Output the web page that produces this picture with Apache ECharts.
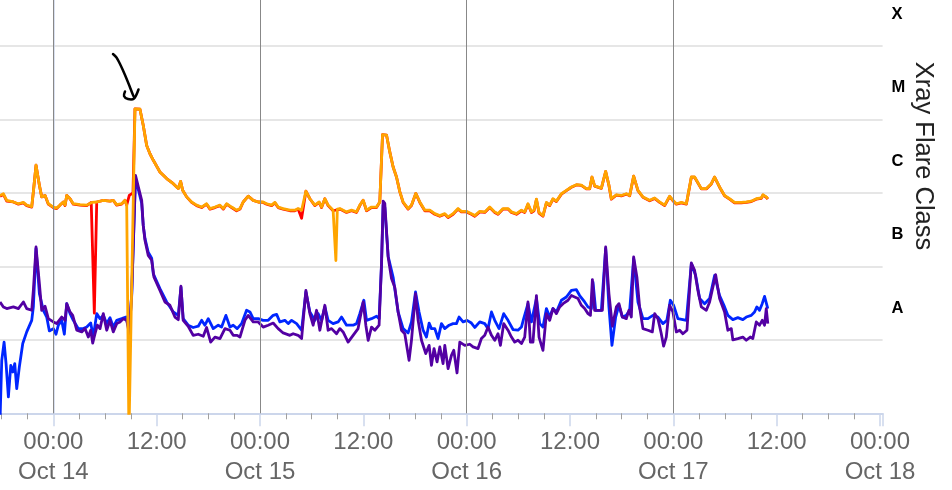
<!DOCTYPE html>
<html><head><meta charset="utf-8">
<script src="https://cdn.jsdelivr.net/npm/echarts@6/dist/echarts.min.js"></script>
<style>html,body{margin:0;padding:0;background:#fff}#c{width:952px;height:490px}</style>
</head><body><div id="c"></div>
<script>
// time = hours from Oct 14 00:00 ; value = X-ray flux (W/m^2)
const dayNames = ['Oct 13','Oct 14','Oct 15','Oct 16','Oct 17','Oct 18'];
const dayLines = [0, 24, 48, 72];
const classNames = ['A','B','C','M','X'];
const classLevels = [-7.5, -6.5, -5.5, -4.5, -3.5];

const longOrange = [[-6.19,9.2e-7],[-5.80,9.7e-7],[-5.41,7.9e-7],[-4.64,7.5e-7],[-4.06,7.1e-7],[-3.48,7.4e-7],[-3.09,6.8e-7],[-2.51,6.5e-7],[-2.32,1.03e-6],[-2.01,2.37e-6],[-1.62,1.27e-6],[-1.35,8.8e-7],[-0.96,9.2e-7],[-0.58,7.1e-7],[0,6.4e-7],[0.39,6.2e-7],[0.78,6.8e-7],[1.16,7.5e-7],[1.36,6.8e-7],[1.56,9.2e-7],[1.94,8.3e-7],[2.32,7.1e-7],[3.10,6.9e-7],[3.88,6.8e-7],[4.46,7.4e-7],[5.04,7.5e-7],[5.80,7.9e-7],[6.58,7.7e-7],[6.96,7.9e-7],[7.36,6.9e-7],[7.94,7.1e-7],[8.32,7.9e-7],[8.52,6.8e-7],[8.78,5e-10],[9.48,1.39e-5],[10.06,1.37e-5],[10.44,8.3e-6],[10.84,4.4e-6],[11.22,3.4e-6],[11.61,2.77e-6],[12.38,1.92e-6],[13.16,1.56e-6],[13.93,1.33e-6],[14.51,1.14e-6],[14.78,1.43e-6],[15.02,1.08e-6],[15.48,8.8e-7],[16.06,7.5e-7],[16.64,6.8e-7],[17.22,6.4e-7],[17.80,7.1e-7],[18.19,6.1e-7],[18.77,6.4e-7],[19.35,6.8e-7],[19.73,6.1e-7],[20.12,7.1e-7],[20.70,6.4e-7],[21.28,5.8e-7],[21.67,6.1e-7],[22.05,7.5e-7],[22.63,9.0e-7],[23.21,7.9e-7],[23.79,7.5e-7],[24.37,7.5e-7],[24.77,7.1e-7],[25.35,6.8e-7],[25.73,7.4e-7],[26.11,6.4e-7],[26.69,6.1e-7],[27.47,5.8e-7],[28.05,5.8e-7],[28.43,6.1e-7],[28.83,5.8e-7],[29.33,1.05e-6],[29.79,8.3e-7],[30.37,6.8e-7],[30.87,7.5e-7],[31.15,6.4e-7],[31.53,8.3e-7],[31.91,6.8e-7],[32.49,5.8e-7],[32.63,5.8e-7],[32.81,1.2e-7],[32.98,6.0e-7],[33.27,6.1e-7],[34.05,5.5e-7],[34.63,5.8e-7],[35.21,5.5e-7],[35.59,6.8e-7],[35.98,7.9e-7],[36.37,5.8e-7],[36.95,6.4e-7],[37.53,6.4e-7],[37.91,7.5e-7],[38.23,6.2e-6],[38.69,6.1e-6],[39.07,3.6e-6],[39.46,2.24e-6],[39.85,1.64e-6],[40.24,1.03e-6],[40.62,7.5e-7],[41.20,6.1e-7],[41.59,6.8e-7],[42.09,9.8e-7],[42.56,7.5e-7],[43.14,5.8e-7],[43.72,5.8e-7],[44.30,5.2e-7],[44.88,4.9e-7],[45.46,5.2e-7],[45.84,4.7e-7],[46.42,5.2e-7],[47.00,6.1e-7],[47.39,5.6e-7],[47.97,5.6e-7],[48.55,5.2e-7],[48.94,4.9e-7],[49.52,5.6e-7],[50.10,5.5e-7],[50.68,6.4e-7],[51.26,5.5e-7],[51.64,5.2e-7],[52.22,6.1e-7],[52.80,6.1e-7],[53.20,5.5e-7],[53.78,5.2e-7],[54.36,5.8e-7],[54.74,5.5e-7],[55.12,7.1e-7],[55.52,5.5e-7],[55.82,5.8e-7],[56.10,8.2e-7],[56.40,5.4e-7],[56.86,4.9e-7],[57.26,7.4e-7],[57.64,6.8e-7],[58.02,8.3e-7],[58.42,7.7e-7],[59.00,9.7e-7],[59.58,1.08e-6],[60.16,1.2e-6],[60.74,1.29e-6],[61.32,1.27e-6],[61.90,1.14e-6],[62.28,1.14e-6],[62.55,1.64e-6],[62.86,1.24e-6],[63.64,1.16e-6],[63.83,1.14e-6],[64.14,1.96e-6],[64.52,1.27e-6],[64.80,8.3e-7],[65.38,9.4e-7],[65.96,9.2e-7],[66.54,9.7e-7],[66.93,9.2e-7],[67.39,1.69e-6],[67.89,1.08e-6],[68.47,8.8e-7],[69.25,7.9e-7],[69.83,8.5e-7],[70.41,7.5e-7],[70.99,6.8e-7],[71.57,9.0e-7],[71.95,7.9e-7],[72.35,7.1e-7],[72.93,7.4e-7],[73.51,7.1e-7],[74.09,1.64e-6],[74.47,1.64e-6],[75.25,1.14e-6],[75.83,1.14e-6],[76.41,1.33e-6],[76.79,1.64e-6],[77.37,1.2e-6],[77.95,9.2e-7],[78.53,8.3e-7],[79.11,7.4e-7],[79.89,7.4e-7],[80.47,7.5e-7],[81.05,7.7e-7],[81.63,8.3e-7],[82.21,8.5e-7],[82.40,9.4e-7],[82.79,8.8e-7],[82.97,8.3e-7]];

const longRed = [[-6.19,9.0e-7],[-5.80,9.5e-7],[-5.41,7.7e-7],[-4.64,7.5e-7],[-4.06,7.0e-7],[-3.48,7.3e-7],[-3.09,6.7e-7],[-2.51,6.4e-7],[-2.32,1.03e-6],[-2.01,2.37e-6],[-1.62,1.27e-6],[-1.35,8.8e-7],[-0.96,9.2e-7],[-0.58,7.0e-7],[0,6.3e-7],[0.39,6.1e-7],[0.78,6.8e-7],[1.16,7.5e-7],[1.36,6.7e-7],[1.56,9.2e-7],[1.94,8.3e-7],[2.32,7.0e-7],[3.10,6.8e-7],[3.88,6.7e-7],[4.40,7.4e-7],[4.76,2.3e-8],[5.04,7.5e-7],[5.80,7.9e-7],[6.58,7.7e-7],[6.96,7.9e-7],[7.36,6.8e-7],[7.94,7.0e-7],[8.32,7.9e-7],[8.52,6.8e-7],[8.82,9.2e-7],[9.25,1.0e-6],[9.48,1.39e-5],[10.06,1.37e-5],[10.44,8.3e-6],[10.84,4.4e-6],[11.22,3.4e-6],[11.61,2.77e-6],[12.38,1.92e-6],[13.16,1.56e-6],[13.93,1.33e-6],[14.51,1.14e-6],[14.78,1.43e-6],[15.02,1.08e-6],[15.48,8.8e-7],[16.06,7.4e-7],[16.64,6.7e-7],[17.22,6.3e-7],[17.80,7.0e-7],[18.19,6.0e-7],[18.77,6.3e-7],[19.35,6.7e-7],[19.73,6.0e-7],[20.12,7.0e-7],[20.70,6.3e-7],[21.28,5.7e-7],[21.67,6.0e-7],[22.05,7.5e-7],[22.63,9.0e-7],[23.21,7.9e-7],[23.79,7.5e-7],[24.37,7.4e-7],[24.77,7.0e-7],[25.35,6.7e-7],[25.73,7.3e-7],[26.11,6.3e-7],[26.69,6.0e-7],[27.47,5.7e-7],[28.05,5.7e-7],[28.43,6.0e-7],[28.83,4.5e-7],[29.33,1.05e-6],[29.79,8.3e-7],[30.37,6.7e-7],[30.87,7.4e-7],[31.15,6.3e-7],[31.53,8.3e-7],[31.91,6.7e-7],[32.49,5.7e-7],[33.27,6.0e-7],[34.05,5.4e-7],[34.63,5.7e-7],[35.21,5.4e-7],[35.59,6.7e-7],[35.98,7.9e-7],[36.37,5.7e-7],[36.95,6.3e-7],[37.53,6.3e-7],[37.91,7.5e-7],[38.23,6.2e-6],[38.69,6.1e-6],[39.07,3.6e-6],[39.46,2.24e-6],[39.85,1.64e-6],[40.24,1.03e-6],[40.62,7.4e-7],[41.20,6.0e-7],[41.59,6.7e-7],[42.09,9.8e-7],[42.56,7.4e-7],[43.14,5.7e-7],[43.72,5.7e-7],[44.30,5.1e-7],[44.88,4.8e-7],[45.46,5.1e-7],[45.84,4.6e-7],[46.42,5.1e-7],[47.00,6.0e-7],[47.39,5.5e-7],[47.97,5.5e-7],[48.55,5.1e-7],[48.94,4.8e-7],[49.52,5.5e-7],[50.10,5.4e-7],[50.68,6.3e-7],[51.26,5.4e-7],[51.64,5.1e-7],[52.22,6.0e-7],[52.80,6.0e-7],[53.20,5.4e-7],[53.78,5.1e-7],[54.36,5.7e-7],[54.74,5.4e-7],[55.12,7.0e-7],[55.52,5.4e-7],[55.82,5.7e-7],[56.10,8.1e-7],[56.40,5.3e-7],[56.86,4.8e-7],[57.26,7.3e-7],[57.64,6.7e-7],[58.02,8.2e-7],[58.42,7.6e-7],[59.00,9.6e-7],[59.58,1.07e-6],[60.16,1.19e-6],[60.74,1.28e-6],[61.32,1.26e-6],[61.90,1.13e-6],[62.28,1.13e-6],[62.55,1.63e-6],[62.86,1.23e-6],[63.64,1.15e-6],[63.83,1.13e-6],[64.14,1.95e-6],[64.52,1.26e-6],[64.80,8.2e-7],[65.38,9.3e-7],[65.96,9.1e-7],[66.54,9.6e-7],[66.93,9.1e-7],[67.39,1.68e-6],[67.89,1.07e-6],[68.47,8.7e-7],[69.25,7.8e-7],[69.83,8.4e-7],[70.41,7.4e-7],[70.99,6.7e-7],[71.57,8.9e-7],[71.95,7.8e-7],[72.35,7.0e-7],[72.93,7.3e-7],[73.51,7.0e-7],[74.09,1.63e-6],[74.47,1.63e-6],[75.25,1.13e-6],[75.83,1.13e-6],[76.41,1.32e-6],[76.79,1.63e-6],[77.37,1.19e-6],[77.95,9.1e-7],[78.53,8.2e-7],[79.11,7.3e-7],[79.89,7.3e-7],[80.47,7.4e-7],[81.05,7.6e-7],[81.63,8.2e-7],[82.21,8.4e-7],[82.40,9.3e-7],[82.79,8.7e-7],[82.97,8.2e-7]];

const shortPurple = [[-6.19,3.27e-8],[-5.80,2.8e-8],[-5.41,2.66e-8],[-4.64,2.8e-8],[-4.06,2.66e-8],[-3.48,3.27e-8],[-3.09,2.66e-8],[-2.51,2.52e-8],[-2.32,4.7e-8],[-2.01,1.83e-7],[-1.62,5.8e-8],[-1.35,2.52e-8],[-0.96,2.86e-8],[-0.58,1.94e-8],[0,1.75e-8],[0.39,1.66e-8],[0.97,2.04e-8],[1.36,1.84e-8],[1.56,3.1e-8],[1.94,2.39e-8],[2.25,2.15e-8],[2.72,1.35e-8],[3.30,1.28e-8],[3.68,1.42e-8],[4.06,1.09e-8],[4.34,1.35e-8],[4.57,9.0e-9],[4.84,1.21e-8],[5.11,1.58e-8],[5.42,1.42e-8],[5.80,2.27e-8],[6.20,1.35e-8],[6.58,1.84e-8],[6.96,1.28e-8],[7.36,1.66e-8],[7.74,1.75e-8],[8.12,1.94e-8],[8.52,1.84e-8],[8.82,1.21e-8],[9.10,4.25e-8],[9.54,1.73e-6],[9.71,1.68e-6],[10.26,7.9e-7],[10.44,3.6e-7],[10.64,2.26e-7],[11.02,1.41e-7],[11.42,1.21e-7],[11.69,7.1e-8],[12.38,4.7e-8],[12.96,3.27e-8],[13.54,2.95e-8],[14.12,2.04e-8],[14.51,1.88e-8],[14.82,5.35e-8],[15.08,1.84e-8],[15.66,1.53e-8],[16.24,1.15e-8],[16.83,1.19e-8],[17.41,1.12e-8],[17.80,1.47e-8],[18.27,9.3e-9],[18.77,1.09e-8],[19.35,1.04e-8],[19.93,1.42e-8],[20.51,1.35e-8],[20.89,1.15e-8],[21.35,1.15e-8],[21.67,1.09e-8],[22.25,1.84e-8],[22.63,2.15e-8],[23.21,1.75e-8],[23.79,1.75e-8],[24.37,1.49e-8],[24.95,1.58e-8],[25.53,1.69e-8],[26.11,1.42e-8],[26.69,1.24e-8],[27.47,1.15e-8],[27.85,1.21e-8],[28.43,1.15e-8],[28.83,1.04e-8],[29.33,4.7e-8],[29.79,2.27e-8],[30.17,1.58e-8],[30.57,2.52e-8],[30.95,1.35e-8],[31.53,2.95e-8],[31.91,1.35e-8],[32.31,1.42e-8],[32.89,1.21e-8],[33.27,1.42e-8],[33.65,1.28e-8],[34.23,9.3e-9],[34.81,1.15e-8],[35.39,1.42e-8],[35.98,3.27e-8],[36.29,1.58e-8],[36.56,9.85e-9],[36.95,1.49e-8],[37.33,1.35e-8],[37.83,1.58e-8],[38.11,1.09e-7],[38.30,7.7e-7],[38.49,7.2e-7],[38.88,1.34e-7],[39.27,6.8e-8],[39.65,5.2e-8],[40.04,2.39e-8],[40.43,1.35e-8],[40.81,1.21e-8],[41.31,5.26e-9],[41.59,9.85e-9],[41.78,9.85e-9],[42.06,4.25e-8],[42.36,1.84e-8],[42.75,9.85e-9],[43.25,6.5e-9],[43.64,8.4e-9],[43.91,4.5e-9],[44.21,7.6e-9],[44.56,5.0e-9],[44.88,8.0e-9],[45.26,4.74e-9],[45.46,8.4e-9],[45.84,4.06e-9],[46.23,6.15e-9],[46.50,7.2e-9],[46.88,3.54e-9],[47.20,9.3e-9],[47.78,8.4e-9],[48.36,8.7e-9],[48.74,8.0e-9],[49.32,7.6e-9],[49.71,1.04e-8],[50.10,1.15e-8],[50.48,1.49e-8],[50.88,1.15e-8],[51.26,9.85e-9],[51.64,1.21e-8],[51.92,8.4e-9],[52.30,1.66e-8],[52.80,1.35e-8],[53.20,1.09e-8],[53.58,9.3e-9],[53.96,9.85e-9],[54.36,8.9e-9],[54.74,1.09e-8],[55.12,3.27e-8],[55.40,9.3e-9],[55.70,9.3e-9],[56.10,4.0e-8],[56.40,1.09e-8],[56.86,7.2e-9],[57.26,2.27e-8],[57.64,1.84e-8],[58.02,2.66e-8],[58.42,2.27e-8],[58.80,2.8e-8],[59.19,3.1e-8],[59.77,3.45e-8],[60.16,4.0e-8],[60.54,3.82e-8],[60.93,3.64e-8],[61.32,2.95e-8],[61.70,2.66e-8],[62.09,2.27e-8],[62.37,2.15e-8],[62.60,6.6e-8],[62.86,2.52e-8],[63.44,2.52e-8],[63.76,2.52e-8],[64.14,1.83e-7],[64.52,4.25e-8],[64.92,1.53e-8],[65.38,2.8e-8],[65.68,3.1e-8],[66.08,2.04e-8],[66.54,1.94e-8],[66.84,2.52e-8],[67.12,2.04e-8],[67.39,1.34e-7],[67.77,7.1e-8],[68.08,2.8e-8],[68.47,1.42e-8],[69.05,1.35e-8],[69.56,1.28e-8],[69.83,2.27e-8],[70.21,1.94e-8],[70.60,1.21e-8],[70.87,8.2e-9],[71.18,1.09e-8],[71.57,2.95e-8],[71.95,2.39e-8],[72.35,1.28e-8],[72.73,1.35e-8],[73.11,1.21e-8],[73.58,1.35e-8],[74.09,1.11e-7],[74.47,8.8e-8],[74.85,4.7e-8],[75.25,2.8e-8],[75.83,2.52e-8],[76.21,3.27e-8],[76.91,7.7e-8],[77.37,3.64e-8],[77.95,2.39e-8],[78.33,1.35e-8],[78.73,1.42e-8],[78.91,1.0e-8],[79.49,1.04e-8],[80.07,1.09e-8],[80.47,9.85e-9],[80.93,1.09e-8],[81.23,1.04e-8],[81.63,1.75e-8],[82.01,1.58e-8],[82.32,1.84e-8],[82.59,1.58e-8],[82.79,2.66e-8],[82.97,1.66e-8]];

const shortBlue = [[-6.19,8e-10],[-5.99,5.26e-9],[-5.72,9.3e-9],[-5.49,4.74e-9],[-5.22,1.67e-9],[-4.94,4.5e-9],[-4.71,3.65e-9],[-4.48,4.74e-9],[-4.25,2.17e-9],[-3.95,4.26e-9],[-3.55,8.9e-9],[-3.09,1.28e-8],[-2.51,1.84e-8],[-2.32,2.8e-8],[-2.01,1.74e-7],[-1.62,4.25e-8],[-1.16,2.52e-8],[-0.77,2.04e-8],[-0.46,1.32e-8],[0,1.42e-8],[0.31,1.19e-8],[0.58,1.58e-8],[0.97,1.84e-8],[1.28,1.19e-8],[1.56,3.1e-8],[1.94,2.27e-8],[2.32,1.84e-8],[2.90,1.42e-8],[3.48,1.42e-8],[3.88,1.49e-8],[4.34,1.69e-8],[4.64,1.09e-8],[5.04,2.27e-8],[5.42,1.94e-8],[5.80,2.15e-8],[6.20,1.66e-8],[6.58,2.0e-8],[6.96,1.49e-8],[7.36,1.84e-8],[7.94,1.94e-8],[8.44,2.04e-8],[8.82,1.35e-8],[9.10,4.0e-8],[9.54,1.58e-6],[9.71,1.58e-6],[10.26,7.2e-7],[10.44,3.6e-7],[10.64,2.4e-7],[11.02,1.55e-7],[11.42,1.29e-7],[11.61,7.9e-8],[12.38,4.97e-8],[13.16,3.27e-8],[13.93,2.39e-8],[14.51,2.15e-8],[14.82,5.2e-8],[15.08,1.94e-8],[15.66,1.58e-8],[16.24,1.47e-8],[16.83,1.53e-8],[17.22,1.84e-8],[17.60,1.58e-8],[17.99,1.94e-8],[18.57,1.42e-8],[19.15,1.58e-8],[19.54,1.49e-8],[20.04,2.15e-8],[20.51,1.49e-8],[20.89,1.58e-8],[21.35,1.42e-8],[21.86,1.66e-8],[22.44,2.52e-8],[22.83,2.39e-8],[23.21,1.94e-8],[23.79,1.94e-8],[24.37,1.84e-8],[24.95,1.84e-8],[25.53,2.15e-8],[25.93,2.22e-8],[26.31,1.75e-8],[26.89,1.84e-8],[27.27,1.66e-8],[27.67,1.84e-8],[28.25,1.66e-8],[28.83,1.35e-8],[29.33,4.47e-8],[29.79,2.39e-8],[30.37,1.84e-8],[30.75,2.27e-8],[31.15,1.84e-8],[31.53,2.8e-8],[31.91,1.84e-8],[32.49,1.66e-8],[33.07,1.75e-8],[33.47,2.04e-8],[34.05,1.58e-8],[34.81,1.58e-8],[35.21,1.66e-8],[35.59,2.27e-8],[36.06,3.45e-8],[36.37,1.84e-8],[36.95,1.94e-8],[37.53,2.09e-8],[37.83,1.94e-8],[38.11,1.03e-7],[38.30,6.8e-7],[38.49,6.35e-7],[38.88,1.37e-7],[39.46,7.1e-8],[40.04,2.39e-8],[40.62,1.42e-8],[41.20,1.24e-8],[41.59,1.75e-8],[42.06,4.47e-8],[42.47,2.39e-8],[42.94,1.35e-8],[43.33,1.09e-8],[43.64,1.69e-8],[43.91,1.42e-8],[44.30,1.42e-8],[44.68,1.04e-8],[45.07,1.66e-8],[45.46,1.42e-8],[45.96,1.58e-8],[46.42,1.66e-8],[46.81,1.66e-8],[47.12,2.04e-8],[47.58,1.75e-8],[48.04,1.84e-8],[48.55,1.69e-8],[48.94,1.47e-8],[49.52,1.75e-8],[50.10,1.66e-8],[50.48,1.42e-8],[50.88,2.39e-8],[51.26,1.84e-8],[51.76,1.42e-8],[52.30,2.27e-8],[52.80,1.84e-8],[53.38,1.38e-8],[53.96,1.35e-8],[54.36,1.49e-8],[54.62,1.94e-8],[55.12,3.1e-8],[55.52,1.75e-8],[56.10,3.64e-8],[56.48,1.66e-8],[56.86,1.49e-8],[57.26,2.66e-8],[57.64,2.04e-8],[58.02,2.66e-8],[58.42,2.39e-8],[59.00,3.45e-8],[59.58,3.82e-8],[60.16,4.7e-8],[60.74,4.8e-8],[61.12,4.0e-8],[61.70,3.27e-8],[62.09,2.8e-8],[62.48,2.66e-8],[62.67,6.1e-8],[62.98,2.52e-8],[63.64,2.52e-8],[64.14,1.74e-7],[64.52,2.8e-8],[64.87,8.4e-9],[65.30,2.04e-8],[65.68,2.95e-8],[66.08,2.04e-8],[66.54,2.15e-8],[66.93,2.52e-8],[67.39,1.27e-7],[67.89,3.27e-8],[68.47,1.94e-8],[69.05,1.94e-8],[69.63,2.15e-8],[70.21,2.04e-8],[70.79,1.66e-8],[71.25,1.84e-8],[71.65,3.45e-8],[72.03,2.95e-8],[72.53,1.94e-8],[73.11,1.88e-8],[73.51,1.84e-8],[74.09,1.09e-7],[74.59,7.5e-8],[75.05,3.64e-8],[75.63,3.1e-8],[76.21,3.64e-8],[76.79,7.5e-8],[77.37,4.0e-8],[77.95,2.8e-8],[78.33,2.15e-8],[78.91,1.88e-8],[79.49,2.0e-8],[80.07,1.88e-8],[80.47,2.04e-8],[81.05,2.15e-8],[81.43,2.39e-8],[81.70,2.8e-8],[82.01,2.52e-8],[82.32,3.1e-8],[82.59,3.9e-8],[82.97,2.66e-8]];

const FONT = '"Liberation Sans", Arial, sans-serif';
const chart = echarts.init(document.getElementById('c'), null, {renderer: 'canvas'});

function lineSeries(name, data, color, extra) {
  return Object.assign({
    name: name, type: 'line', data: data, showSymbol: false, symbol: 'none',
    clip: true, silent: true,
    lineStyle: {color: color, width: 2.8, join: 'round'},
    itemStyle: {color: color}
  }, extra || {});
}

chart.setOption({
  animation: false,
  backgroundColor: '#ffffff',
  grid: {left: -50, right: 69.4, top: -101.2, bottom: 76.7, containLabel: false, outerBoundsMode: 'none'},
  xAxis: {
    type: 'value', min: -12, max: 96.3, interval: 12,
    axisLine: {show: true, onZero: false, lineStyle: {color: '#ccd6eb', width: 2}},
    axisTick: {show: true, length: 13, lineStyle: {color: '#ccd6eb', width: 1.5}},
    minorTick: {show: true, splitNumber: 4, length: 6, lineStyle: {color: '#a0a0a0', width: 1}},
    splitLine: {show: false},
    axisLabel: {
      fontSize: 24, color: '#666666', lineHeight: 30, margin: 14, fontFamily: FONT,
      showMinLabel: true, showMaxLabel: true, hideOverlap: false,
      formatter: function (v) {
        if (Math.abs(v % 12) > 1e-6) return '';
        const hh = ((v % 24) + 24) % 24;
        if (hh === 0) return '00:00\n' + dayNames[Math.round(v / 24) + 1];
        return '12:00';
      }
    }
  },
  yAxis: [{
    type: 'log', logBase: 10, min: 1e-9, max: 1e-2, position: 'right',
    axisLine: {show: true, lineStyle: {color: '#ccd6eb', width: 1.5}},
    axisTick: {show: false},
    axisLabel: {show: false},
    splitLine: {show: true, lineStyle: {color: '#e6e6e6', width: 2}},
    name: 'Xray Flare Class', nameLocation: 'middle', nameRotate: -90, nameGap: 27,
    nameTextStyle: {fontSize: 25.5, color: '#222222', fontFamily: FONT}
  }, {
    type: 'value', min: -9, max: -2, interval: 0.5, position: 'right',
    axisLine: {show: false}, axisTick: {show: false}, splitLine: {show: false},
    axisLabel: {
      show: true, margin: 9, fontFamily: FONT,
      formatter: function (v) {
        const i = classLevels.findIndex(function (l) { return Math.abs(l - v) < 1e-6; });
        return i < 0 ? '' : '{c|' + classNames[i] + '}';
      },
      rich: {c: {fontSize: 16.5, fontWeight: 'bold', color: '#000000', fontFamily: FONT, padding: [10, 0, 0, 0]}}
    }
  }],
  series: [
    lineSeries('Short (0.05-0.4 nm)', shortBlue, '#0026ff', {
      markLine: {
        silent: true, symbol: 'none', animation: false,
        label: {show: false},
        lineStyle: {color: '#888888', width: 1, type: 'solid'},
        data: dayLines.map(function (d) { return {xAxis: d}; })
      }
    }),
    lineSeries('Short secondary', shortPurple, '#5300a3'),
    lineSeries('Long secondary', longRed, '#ff0000'),
    lineSeries('Long (0.1-0.8 nm)', longOrange, '#ffa500')
  ],
  graphic: [
    {type: 'polyline', shape: {points: [[113,54],[116.5,57.5],[120.5,65],[125,75],[129.5,86],[133,95],[134.5,97.5]], smooth: 0.3},
     style: {stroke: '#000', lineWidth: 2.5, fill: null, lineCap: 'round', lineJoin: 'round'}},
    {type: 'polyline', shape: {points: [[125,91.5],[124,96],[128,99],[134,98.5],[138.5,89.5]], smooth: 0.3},
     style: {stroke: '#000', lineWidth: 2.5, fill: null, lineCap: 'round', lineJoin: 'round'}}
  ]
});
</script>
</body></html>
